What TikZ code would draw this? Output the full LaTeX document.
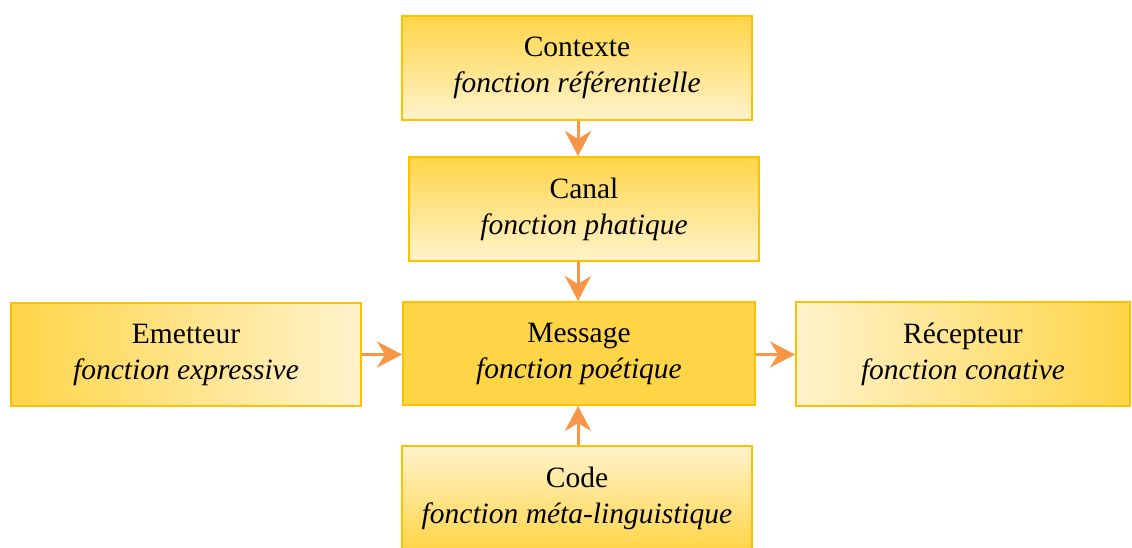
\documentclass[tikz,border=0pt]{standalone}
\usepackage{fontspec}
\setmainfont{Liberation Serif}
\usetikzlibrary{arrows.meta}
\definecolor{ydark}{HTML}{FFD548}
\definecolor{ylight}{HTML}{FFF3CC}
\definecolor{yborder}{HTML}{FFC000}
\definecolor{arr}{HTML}{F79646}
\tikzset{
  box/.style={rectangle, draw=yborder, line width=2pt, minimum width=350pt, minimum height=104pt,
    align=center, font=\fontsize{29.5}{36}\selectfont, inner sep=0pt},
  vdown/.style={box, top color=ydark, bottom color=ylight},
  vup/.style={box, top color=ylight, bottom color=ydark},
  hright/.style={box, left color=ydark, right color=ylight},
  hleft/.style={box, left color=ylight, right color=ydark},
  solid box/.style={box, fill=ydark},
  conn/.style={draw=arr, line width=3pt, -{Stealth[length=25pt, width=26pt, inset=8pt]}}
}
\begin{document}
\begin{tikzpicture}[x=1pt,y=1pt]
\useasboundingbox (0,0) rectangle (1132,-547);
\node[vdown] (ctx) at (577,-68) {Contexte\\\textit{fonction référentielle}};
\node[vdown] (can) at (584,-209) {Canal\\\textit{fonction phatique}};
\node[solid box, minimum width=352pt, minimum height=103pt] (msg) at (579,-353.5) {Message\\\textit{fonction poétique}};
\node[hright, minimum height=103pt] (em) at (186,-354.5) {Emetteur\\\textit{fonction expressive}};
\node[hleft, minimum width=334pt] (rec) at (963,-354) {Récepteur\\\textit{fonction conative}};
\node[vup] (code) at (577,-498) {Code\\\textit{fonction méta-linguistique}};
\coordinate (a1) at (578,0);
\draw[conn] (ctx.south -| a1) -- (can.north -| a1);
\draw[conn] (can.south -| a1) -- (msg.north -| a1);
\draw[conn] (code.north -| a1) -- (msg.south -| a1);
\draw[conn] (em.east) -- (em.east -| msg.west);
\draw[conn] (msg.east |- em.east) -- (rec.west |- em.east);
\end{tikzpicture}
\end{document}
